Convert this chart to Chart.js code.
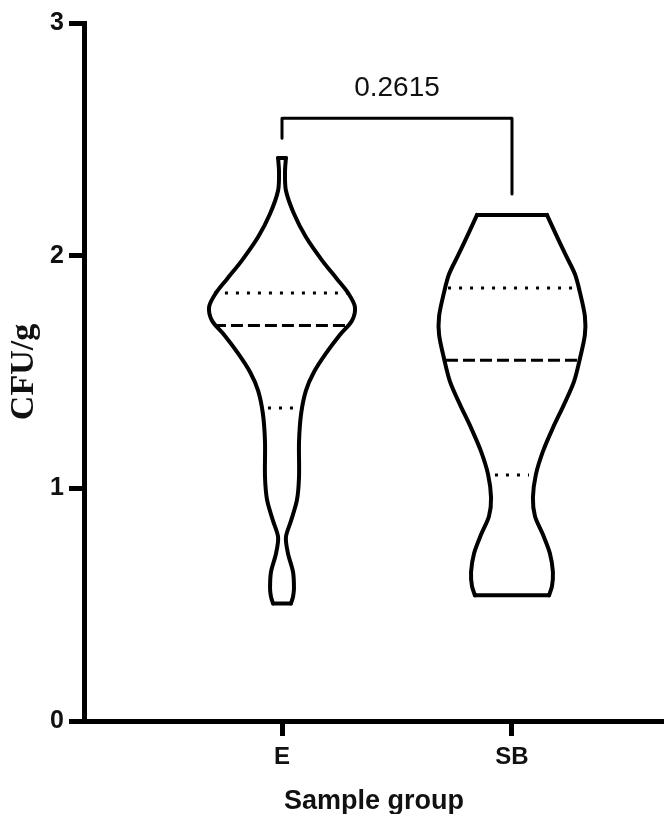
<!DOCTYPE html>
<html>
<head>
<meta charset="utf-8">
<script src="https://cdn.jsdelivr.net/npm/chart.js@4/dist/chart.umd.min.js"></script>
<style>
  html, body { margin: 0; padding: 0; background: #fff; }
  #wrap { width: 664px; height: 814px; }
</style>
</head>
<body>
<div id="wrap"><canvas id="violinChart" width="664" height="814"></canvas></div>
<script>
// groups on the x axis
const groups = ['E', 'SB'];
const groupPos = [1, 2];

// violin outline: CFU/g levels (top -> bottom) and half widths (x units)
const eLevels = [2.42, 2.36, 2.28, 2.18, 2.08, 1.98, 1.90, 1.84, 1.78, 1.72, 1.66, 1.58, 1.50, 1.42, 1.32, 1.20, 1.05, 0.95, 0.86, 0.79, 0.72, 0.64, 0.57, 0.535, 0.505];
const eHalf   = [0.017, 0.013, 0.017, 0.052, 0.104, 0.174, 0.239, 0.287, 0.317, 0.304, 0.252, 0.191, 0.139, 0.104, 0.083, 0.074, 0.074, 0.065, 0.039, 0.017, 0.026, 0.048, 0.052, 0.048, 0.039];

const sbLevels = [2.175, 2.10, 2.00, 1.92, 1.84, 1.74, 1.66, 1.56, 1.46, 1.36, 1.26, 1.16, 1.06, 0.96, 0.88, 0.80, 0.72, 0.64, 0.58, 0.54];
const sbHalf   = [0.152, 0.187, 0.235, 0.274, 0.296, 0.317, 0.317, 0.296, 0.270, 0.226, 0.178, 0.135, 0.104, 0.091, 0.100, 0.135, 0.165, 0.178, 0.174, 0.161];

// quartile lines: [q1, median, q3] and their half widths
const eQuart   = [1.345, 1.70, 1.84];
const eQHalf   = [0.061, 0.296, 0.296];
const sbQuart  = [1.057, 1.551, 1.861];
const sbQHalf  = [0.074, 0.287, 0.278];

// significance bracket
const pLabel = '0.2615';
const bracketTop = 2.591;
const bracketEnds = [2.505, 2.265];
const pLabelY = 2.72;

const yTicks = [0, 1, 2, 3];

const black = '#000';
const datasets = [];

// violin: two curved sides plus flat caps at top and bottom
function addViolin(center, levels, half) {
  const n = levels.length - 1;
  const left = levels.map((v, i) => ({ x: center - half[i], y: v }));
  const right = levels.map((v, i) => ({ x: center + half[i], y: v }));
  datasets.push({ data: left, borderWidth: 4, tension: 0.3 });
  datasets.push({ data: right, borderWidth: 4, tension: 0.3 });
  datasets.push({ data: [left[0], right[0]], borderWidth: 4 });
  datasets.push({ data: [left[n], right[n]], borderWidth: 4 });
}

function hline(center, y, hw) {
  return [{ x: center - hw, y }, { x: center + hw, y }];
}

addViolin(groupPos[0], eLevels, eHalf);
addViolin(groupPos[1], sbLevels, sbHalf);

[[groupPos[0], eQuart, eQHalf], [groupPos[1], sbQuart, sbQHalf]].forEach(([c, q, h]) => {
  datasets.push({ data: hline(c, q[0], h[0]), borderWidth: 3, borderDash: [3, 8] });
  datasets.push({ data: hline(c, q[1], h[1]), borderWidth: 3, borderDash: [12, 5] });
  datasets.push({ data: hline(c, q[2], h[2]), borderWidth: 3, borderDash: [3, 8] });
});

// bracket
datasets.push({
  data: [
    { x: groupPos[0], y: bracketEnds[0] },
    { x: groupPos[0], y: bracketTop },
    { x: groupPos[1], y: bracketTop },
    { x: groupPos[1], y: bracketEnds[1] }
  ],
  borderWidth: 3
});

datasets.forEach(d => {
  d.borderColor = black;
  d.backgroundColor = 'transparent';
  d.showLine = true;
  d.pointRadius = 0;
  d.fill = false;
  d.borderCapStyle = d.borderDash ? 'butt' : 'round';
  d.borderJoinStyle = 'round';
});

const pValuePlugin = {
  id: 'pValue',
  afterDatasetsDraw(chart) {
    const { ctx, scales } = chart;
    ctx.save();
    ctx.fillStyle = '#111';
    ctx.font = '28px "Liberation Sans", Arial, sans-serif';
    ctx.textAlign = 'center';
    ctx.textBaseline = 'middle';
    ctx.fillText(pLabel, scales.x.getPixelForValue((groupPos[0] + groupPos[1]) / 2), scales.y.getPixelForValue(pLabelY));
    ctx.restore();
  }
};

new Chart(document.getElementById('violinChart').getContext('2d'), {
  type: 'scatter',
  data: { datasets },
  options: {
    responsive: false,
    animation: false,
    layout: { padding: { top: 23, right: 0, left: 0, bottom: 0 } },
    plugins: { legend: { display: false }, tooltip: { enabled: false } },
    scales: {
      x: {
        type: 'linear',
        min: 0.139,
        max: 2.661,
        afterBuildTicks: s => { s.ticks = groupPos.map(v => ({ value: v })); },
        afterFit: s => { s.height = 93; },
        ticks: {
          callback: v => groups[groupPos.indexOf(v)],
          color: '#111',
          padding: 7,
          maxRotation: 0,
          font: { family: '"Liberation Sans", Arial, sans-serif', size: 24, weight: 'bold' }
        },
        grid: { drawOnChartArea: false, drawTicks: true, tickLength: 15, tickWidth: 5, tickColor: black },
        border: { display: true, color: black, width: 5 },
        title: {
          display: true,
          text: 'Sample group',
          color: '#111',
          padding: { top: 0, bottom: -4 },
          font: { family: '"Liberation Sans", Arial, sans-serif', size: 27, weight: 'bold' }
        }
      },
      y: {
        type: 'linear',
        min: 0,
        max: 3,
        afterBuildTicks: s => { s.ticks = yTicks.map(v => ({ value: v })); },
        afterFit: s => { s.width = 84; },
        ticks: {
          color: '#111',
          padding: 5,
          font: { family: '"Liberation Sans", Arial, sans-serif', size: 25, weight: 'bold' }
        },
        grid: { drawOnChartArea: false, drawTicks: true, tickLength: 15, tickWidth: 5, tickColor: black },
        border: { display: true, color: black, width: 5 },
        title: {
          display: true,
          text: 'CFU/g',
          color: '#111',
          padding: { top: 4, bottom: 0 },
          font: { family: '"Liberation Serif", "Times New Roman", serif', size: 34, weight: 'bold' }
        }
      }
    }
  },
  plugins: [pValuePlugin]
});
</script>
</body>
</html>
